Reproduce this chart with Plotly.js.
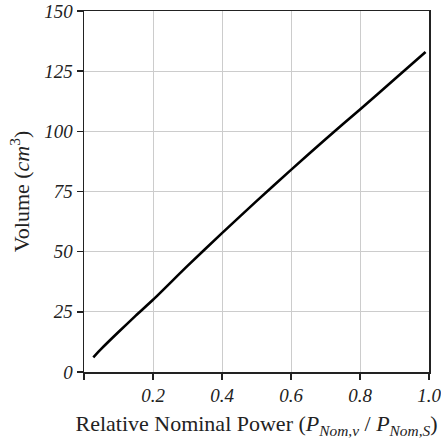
<!DOCTYPE html>
<html>
<head>
<meta charset="utf-8">
<script src="https://cdn.plot.ly/plotly-3.0.1.min.js"></script>
<style>html,body{margin:0;padding:0;background:#fff;}#chart{width:441px;height:441px;}</style>
</head>
<body>
<div id="chart"></div>
<script>
const relPower = [0.027, 0.05, 0.1, 0.15, 0.2, 0.3, 0.4, 0.5, 0.6, 0.7, 0.8, 0.9, 0.99];
const volume = [6.1, 9.6, 16.6, 23.4, 30.0, 44.1, 57.7, 71.0, 84.0, 96.7, 109.1, 121.6, 133.0];
const xTickVals = [0, 0.2, 0.4, 0.6, 0.8, 1.0];
const xTickLabels = ['', '0.2', '0.4', '0.6', '0.8', '1.0'];
const yTickVals = [0, 25, 50, 75, 100, 125, 150];
const yTickLabels = ['0', '25', '50', '75', '100', '125', '150'];

const serif = "Liberation Serif";
const italic = s => (s === '' ? '' : '<i>' + s + '</i>');

Plotly.newPlot('chart', [{
  x: relPower, y: volume, type: 'scatter', mode: 'lines',
  line: {color: '#000', width: 2.6, shape: 'spline', smoothing: 0.6}
}], {
  width: 441, height: 441,
  font: {family: serif, size: 19, color: '#222'},
  margin: {l: 84, r: 12, t: 11, b: 69},
  paper_bgcolor: '#fff', plot_bgcolor: '#fff',
  showlegend: false,
  xaxis: {
    range: [0, 1.0], tickvals: xTickVals, ticktext: xTickLabels.map(italic),
    ticks: 'outside', ticklen: 6, tickwidth: 1.5, tickcolor: '#222',
    ticklabeloverflow: 'allow',
    showline: true, linecolor: '#222', linewidth: 1.5, mirror: true,
    showgrid: true, gridcolor: '#cccccc', gridwidth: 1, zeroline: false,
    tickfont: {family: serif, size: 19, color: '#222'},
    title: {text: 'Relative Nominal Power (<i>P</i><sub><i>Nom,v</i></sub> / <i>P</i><sub><i>Nom,S</i></sub>)',
            font: {family: serif, size: 22, color: '#222'}, standoff: 10}
  },
  yaxis: {
    range: [0, 150], tickvals: yTickVals, ticktext: yTickLabels.map(italic),
    ticks: 'outside', ticklen: 6, tickwidth: 1.5, tickcolor: '#222',
    ticklabeloverflow: 'allow',
    showline: true, linecolor: '#222', linewidth: 1.5, mirror: true,
    showgrid: true, gridcolor: '#cccccc', gridwidth: 1, zeroline: false,
    tickfont: {family: serif, size: 19, color: '#222'},
    title: {text: 'Volume (<i>cm</i><sup>3</sup>)', font: {family: serif, size: 22, color: '#222'}, standoff: 8}
  }
}, {staticPlot: true, displayModeBar: false});
</script>
</body>
</html>
